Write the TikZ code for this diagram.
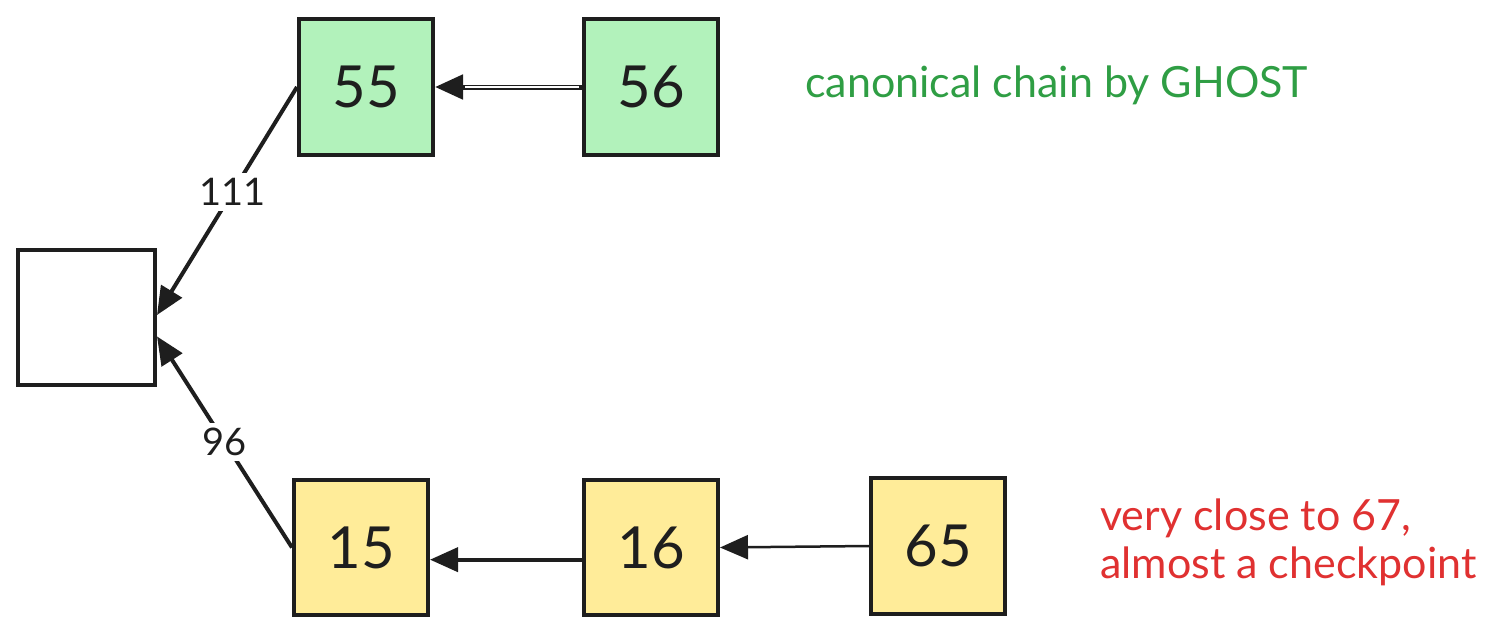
\documentclass[tikz,border=0pt]{standalone}
\usepackage{fontspec}
\setmainfont{Lato}
\usetikzlibrary{arrows.meta}
\definecolor{ink}{HTML}{1E1E1E}
\definecolor{boxgreen}{HTML}{B2F2BB}
\definecolor{boxyellow}{HTML}{FFEC99}
\definecolor{txtgreen}{HTML}{2F9E44}
\definecolor{txtred}{HTML}{E03131}
\tikzset{
  block/.style={draw=ink, line width=4pt, minimum width=134pt, minimum height=136pt, inner sep=0pt, font=\fontsize{58}{60}\selectfont, text=ink},
  greenblock/.style={block, fill=boxgreen},
  yellowblock/.style={block, fill=boxyellow},
  link/.style={draw=ink, line width=4pt, -{Triangle[length=28pt,width=24pt]}},
  thinlink/.style={draw=ink, line width=2.5pt, -{Triangle[length=28pt,width=24pt]}},
  weight/.style={fill=white, inner sep=5pt, text=ink, font=\fontsize{38}{40}\selectfont},
  note/.style={inner sep=0pt, font=\fontsize{43}{48}\selectfont}
}
\begin{document}
\begin{tikzpicture}[x=1pt,y=-1pt]
\useasboundingbox (0,0) rectangle (1507,635);
\node[block, minimum width=137pt, minimum height=135pt] (root) at (86.5,317.5) {};
\node[greenblock] (b55) at (366,87) {55};
\node[greenblock] (b56) at (651,87) {56};
\node[yellowblock, minimum height=135pt] (b15) at (361,547.5) {15};
\node[yellowblock, minimum height=135pt] (b16) at (651,547.5) {16};
\node[yellowblock] (b65) at (938,546) {65};
% double-lined arrow 56 -> 55
\draw[link, line width=5pt] (b56.west) -- (b55.east);
\draw[white, line width=1.6pt, shorten >=30pt, shorten <=3pt] (b56.west) -- (b55.east);
\draw[link] (b55.west) -- node[weight, pos=0.46] {111} (root.2);
\draw[link] (b15.west) -- node[weight] {96} (root.-15);
\draw[link] (b16.190) -- (b15.-10);
\draw[thinlink] (b65.west) -- (b16.east);
\node[note, text=txtgreen, anchor=base west] (n1) at (805,97) {canonical chain by GHOST};
\node[note, text=txtred, anchor=base west, align=left] (n2) at (1100,578) {very close to 67,\\almost a checkpoint};
\end{tikzpicture}
\end{document}
